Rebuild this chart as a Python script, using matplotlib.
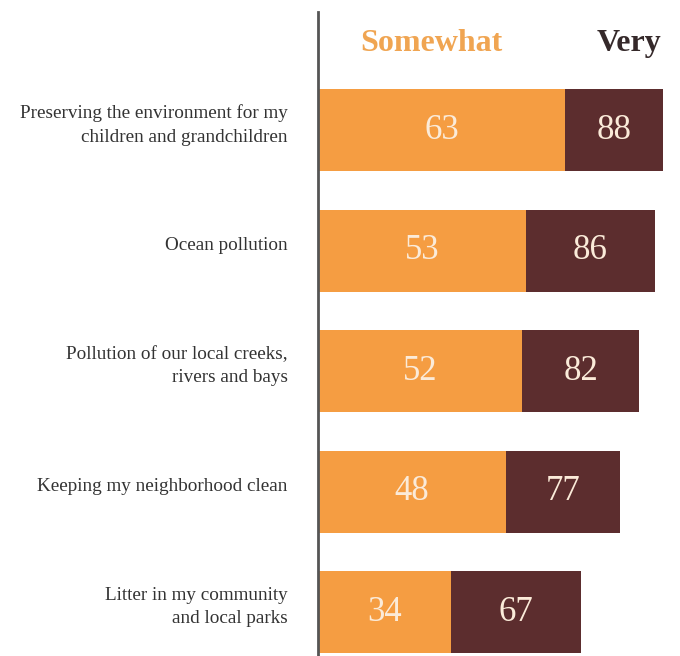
import matplotlib.pyplot as plt

# data
categories = ['Preserving the environment for my\nchildren and grandchildren',
              'Ocean pollution',
              'Pollution of our local creeks,\nrivers and bays',
              'Keeping my neighborhood clean',
              'Litter in my community\nand local parks']
somewhat = [63, 53, 52, 48, 34]
very = [88, 86, 82, 77, 67]

orange = '#F59D42'
maroon = '#5C2D2E'
label_col = '#FBEBD9'

plt.rcParams['font.family'] = ['Liberation Serif', 'DejaVu Serif']

fig = plt.figure(figsize=(6.8, 6.56), dpi=100)
ax = fig.add_axes([318 / 680, 0, 360.6 / 680, 644 / 656])

y = list(range(len(categories)))
gap = [v - s for s, v in zip(somewhat, very)]

ax.barh(y, somewhat, height=0.68, color=orange)
ax.barh(y, gap, left=somewhat, height=0.68, color=maroon)

# numbers inside the bars
for i in y:
    ax.text(somewhat[i] / 2, i, str(somewhat[i]), ha='center', va='center',
            fontsize=25, color=label_col)
    ax.text((somewhat[i] + very[i]) / 2, i, str(very[i]), ha='center', va='center',
            fontsize=25, color=label_col)
    ax.text(-7.7, i - 0.04, categories[i], ha='right', va='center', fontsize=13.8,
            color='#333333', linespacing=1.5)

ax.set_xlim(0, 92)
ax.set_ylim(4.365, -0.98)

# header labels
ax.text(28.8, -0.72, 'Somewhat', ha='center', va='center', fontsize=23,
        fontweight='bold', color='#F0A552')
ax.text(79.3, -0.72, 'Very', ha='center', va='center', fontsize=23,
        fontweight='bold', color='#35292A')

for side in ['top', 'right', 'bottom']:
    ax.spines[side].set_visible(False)
ax.spines['left'].set_color('#555555')
ax.spines['left'].set_linewidth(2)
ax.set_xticks([])
ax.set_yticks([])

fig.savefig('out.png', dpi=100)
